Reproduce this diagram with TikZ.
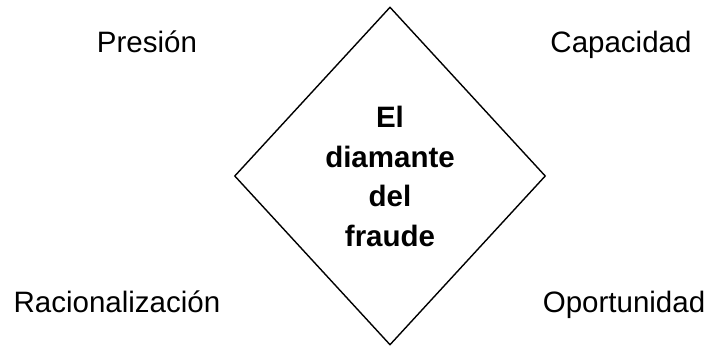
\documentclass[tikz,border=0pt]{standalone}
\usepackage{fontspec}
\setmainfont{Liberation Sans}
\usetikzlibrary{shapes.geometric}
\tikzset{etiqueta/.style={anchor=base,inner sep=0pt,font=\fontsize{29.5}{39.5}\selectfont},
  rombo/.style={draw,diamond,line width=1.4pt,minimum width=311pt,minimum height=338pt,inner sep=0pt}}

\begin{document}
\begin{tikzpicture}[x=1pt,y=-1pt]
\useasboundingbox (0,0) rectangle (708,347);
\node [rombo] (diamante) at (390,176) {};
\node [etiqueta,font=\fontsize{29.5}{39.5}\selectfont\bfseries,align=center,anchor=center] (titulo) at (390,176.5) {El\\diamante\\del\\fraude};

\node [etiqueta] (presion) at (147,53) {Presión};
\node [etiqueta] (capacidad) at (621,53) {Capacidad};
\node [etiqueta] (racional) at (117,312) {Racionalización};
\node [etiqueta] (oportunidad) at (624,312) {Oportunidad};
%\draw (diamante.north) -- (diamante.south);
\end{tikzpicture}
\end{document}
